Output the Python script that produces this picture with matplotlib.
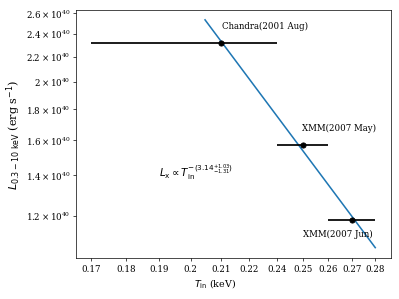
import matplotlib
matplotlib.use("Agg")
import matplotlib.pyplot as plt
from matplotlib.ticker import NullLocator

plt.rcParams['font.family'] = ['DejaVu Serif']

# observations (positions on the drawn temperature axis)
names = ["Chandra(2001 Aug)", "XMM(2007 May)", "XMM(2007 Jun)"]
T_in = [0.21, 0.24, 0.26]
T_err_lo = [0.04, 0.01, 0.01]
T_err_hi = [0.02, 0.01, 0.01]
L_x = [2.318e40, 1.572e40, 1.180e40]

# power-law fit line end points
T_fit = [0.2047, 0.27]
L_fit = [2.533e40, 1.062e40]

# ticks
xtick_pos = [0.17, 0.18, 0.19, 0.20, 0.21, 0.22, 0.23, 0.24, 0.25, 0.26, 0.27]
xtick_labels = ["0.17", "0.18", "0.19", "0.2", "0.21", "0.22", "0.24", "0.25", "0.26", "0.27", "0.28"]
ytick_vals = [1.2e40, 1.4e40, 1.6e40, 1.8e40, 2.0e40, 2.2e40, 2.4e40, 2.6e40]
ytick_labels = [r"$\mathdefault{1.2\times10^{40}}$", r"$\mathdefault{1.4\times10^{40}}$",
                r"$\mathdefault{1.6\times10^{40}}$", r"$\mathdefault{1.8\times10^{40}}$",
                r"$\mathdefault{2\times10^{40}}$", r"$\mathdefault{2.2\times10^{40}}$",
                r"$\mathdefault{2.4\times10^{40}}$", r"$\mathdefault{2.6\times10^{40}}$"]

fig = plt.figure(figsize=(6.4, 4.8), dpi=62.35)
ax = fig.add_axes([0.191, 0.136, 0.7877, 0.8296])

ax.plot(T_fit, L_fit, color="#1f77b4", lw=1.8)
ax.errorbar(T_in, L_x, xerr=[T_err_lo, T_err_hi], fmt="o", color="k",
            ecolor="k", elinewidth=2, markersize=6, capsize=0)

ax.set_xscale("log")
ax.set_yscale("log")
ax.set_xlim(0.166, 0.2768)
ax.set_ylim(1.0196e40, 2.630e40)

ax.set_xticks(xtick_pos, labels=xtick_labels)
ax.set_yticks(ytick_vals, labels=ytick_labels)
ax.xaxis.set_minor_locator(NullLocator())
ax.yaxis.set_minor_locator(NullLocator())

ax.text(0.2104, 2.477e40, names[0], fontsize=10, va="center", ha="left")
ax.text(0.2396, 1.676e40, names[1], fontsize=10, va="center", ha="left")
ax.text(0.2401, 1.118e40, names[2], fontsize=10, va="center", ha="left")
ax.text(0.190, 1.412e40, r"$L_{\rm x} \propto T_{\rm in}^{-(3.14^{+1.03}_{-1.31})}$",
        fontsize=12, va="center", ha="left")

ax.set_xlabel(r"$T_{\rm in}$ (keV)", fontsize=11, x=0.441)
ax.set_ylabel(r"$L_{0.3-10\ {\rm keV}}$ (erg s$^{-1}$)", fontsize=13)
ax.yaxis.set_label_coords(-0.168, 0.5)

fig.savefig("out.png", dpi=62.35)
